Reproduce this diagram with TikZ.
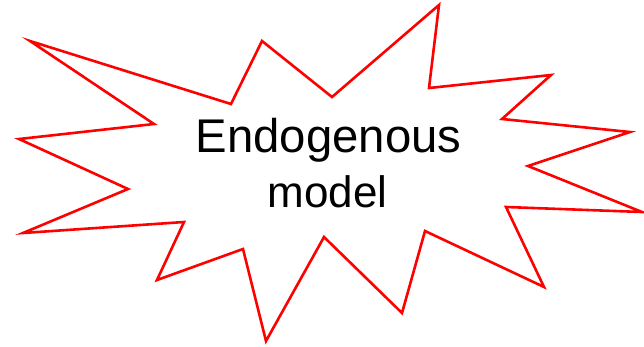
\documentclass[tikz,border=0pt]{standalone}
\usepackage{fontspec}
\setmainfont{Liberation Sans}
\begin{document}
\begin{tikzpicture}[x=1pt, y=-1pt]
            \useasboundingbox (0,0) rectangle (644,346);
            % Star outline
            \draw[red, line width=2.6pt] (439,5) -- (429,88) -- (551,75) -- (502,119)
                -- (630,132) -- (528,166) -- (642,212) -- (506,207) -- (544,287)
                -- (425,231) -- (402,313) -- (324,237) -- (266,341) -- (243,249)
                -- (157,280) -- (184,222) -- (23,233) -- (128,189) -- (19,139)
                -- (154,124) -- (30,41) -- (231,104) -- (262,41) -- (332,97) -- cycle;
            % Label
            \node[anchor=base, inner sep=0pt] (endo) at (328.5,152) {\fontsize{47.3}{52}\selectfont Endogenous};
            \node[anchor=base, inner sep=0pt] (model) at (327.5,207) {\fontsize{44}{48}\selectfont model};
        \end{tikzpicture}
\end{document}
